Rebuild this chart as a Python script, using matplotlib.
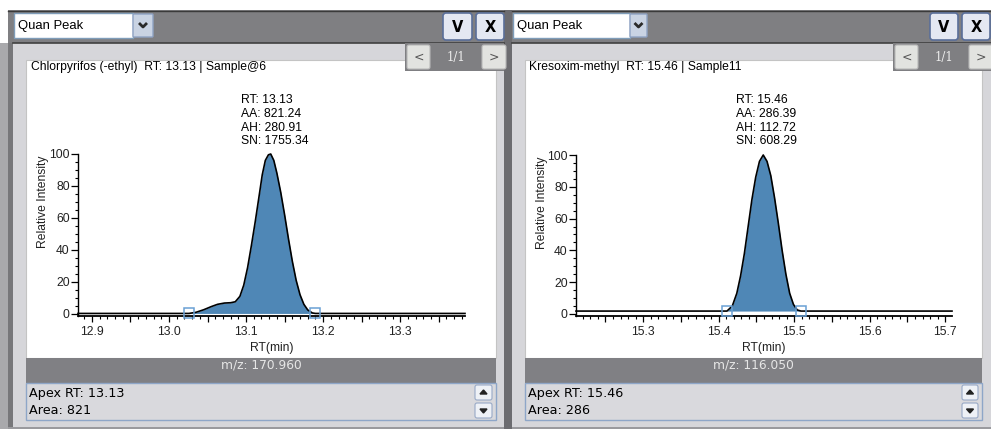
import matplotlib
matplotlib.use("Agg")
import matplotlib.pyplot as plt
from matplotlib.patches import Rectangle, FancyBboxPatch
from matplotlib.ticker import MultipleLocator, FuncFormatter

# ---------------- data ----------------
rt_chlorpyrifos = [12.882, 13.026, 13.035, 13.045, 13.055, 13.063, 13.072, 13.080,
                   13.086, 13.092, 13.097, 13.102, 13.107, 13.112, 13.117, 13.121,
                   13.125, 13.129, 13.132, 13.136, 13.140, 13.145, 13.150, 13.155,
                   13.160, 13.165, 13.170, 13.175, 13.180, 13.186, 13.190, 13.384]
int_chlorpyrifos = [0.3, 0.3, 1.0, 2.6, 4.6, 6.0, 6.8, 7.0,
                    7.6, 11, 18, 29, 43, 58, 74, 87,
                    96, 99.5, 100, 96, 88, 76, 62, 47,
                    33, 21, 12, 6, 2.5, 0.6, 0.3, 0.3]
bounds_chlorpyrifos = [13.026, 13.190]

rt_kresoxim = [15.211, 15.411, 15.418, 15.424, 15.429, 15.434, 15.439, 15.444,
               15.449, 15.454, 15.459, 15.464, 15.469, 15.474, 15.479, 15.484,
               15.489, 15.494, 15.499, 15.504, 15.509, 15.709]
int_kresoxim = [1.8, 1.8, 5, 13, 24, 38, 55, 72,
                86, 96, 100, 96, 87, 73, 57, 40,
                25, 13, 6, 2.5, 1.8, 1.8]
bounds_kresoxim = [15.411, 15.509]

titles = ["Chlorpyrifos (-ethyl)  RT: 13.13 | Sample@6",
          "Kresoxim-methyl  RT: 15.46 | Sample11"]
annotations = [["RT: 13.13", "AA: 821.24", "AH: 280.91", "SN: 1755.34"],
               ["RT: 15.46", "AA: 286.39", "AH: 112.72", "SN: 608.29"]]
mz_labels = ["m/z: 170.960", "m/z: 116.050"]
apex_labels = ["Apex RT: 13.13", "Apex RT: 15.46"]
area_labels = ["Area: 821", "Area: 286"]
y_label = "Relative Intensity"
x_label = "RT(min)"

# ---------------- layout (pixels) ----------------
W, H = 991, 429
fig = plt.figure(figsize=(W / 100, H / 100), dpi=100)
fig.patch.set_facecolor("white")
bg = fig.add_axes([0, 0, 1, 1])
bg.set_xlim(0, W)
bg.set_ylim(H, 0)
bg.axis("off")

TOOL = "#7f7f82"
BODY = "#d6d6da"
DARK = "#6c6c70"
UIFONT = "DejaVu Sans"
CHFONT = "Liberation Sans"
CHSIZE = 8.7


def rect(x0, y0, x1, y1, fc, ec="none", lw=0, z=1):
    bg.add_patch(Rectangle((x0, y0), x1 - x0, y1 - y0, facecolor=fc,
                           edgecolor=ec, linewidth=lw, zorder=z))


def rbox(x0, y0, x1, y1, fc, ec, lw=1, z=3, r=2):
    bg.add_patch(FancyBboxPatch((x0, y0), x1 - x0, y1 - y0,
                                boxstyle=f"round,pad=0,rounding_size={r}",
                                facecolor=fc, edgecolor=ec, linewidth=lw, zorder=z))


def ax_rect(x0, y0, x1, y1):
    return [x0 / W, (H - y1) / H, (x1 - x0) / W, (y1 - y0) / H]


# outer frame pieces
rect(0, 43, 8, H, "#a9a9ac")
rect(8, 10, 13, H, "#77777a")
rect(504, 10, 512, H, DARK)

panels = [
    dict(x0=13, x1=504, dd=(14, 133, 153), vb=(443, 472), xb=(476, 504),
         nav=(405, 504), white=(26, 496), ann_x=241, title_x=31,
         scroll=(475, 492)),
    dict(x0=512, x1=991, dd=(513, 630, 647), vb=(930, 958), xb=(962, 990),
         nav=(893, 991), white=(525, 982), ann_x=736, title_x=529,
         scroll=(962, 978)),
]

for i, p in enumerate(panels):
    x0, x1 = p["x0"], p["x1"]
    # toolbar
    rect(x0 - (5 if i == 0 else 0), 10, x1, 43, TOOL, z=1)
    bg.plot([x0 - (5 if i == 0 else 0), x1], [10.5, 10.5], color="#3a3a3a", lw=1, zorder=2)
    bg.plot([x0, x1], [42.5, 42.5], color="#404040", lw=1.2, zorder=2)
    # body
    rect(x0, 43, x1, 427, BODY, z=1)
    rect(x0 - (5 if i == 0 else 0), 427, x1, H, "#9a9a9e", z=1)
    # dropdown
    d0, d1, d2 = p["dd"]
    rect(d0, 13, d1, 38, "white", ec="#7f9db9", lw=1, z=3)
    rbox(d1, 14, d2, 37, "#c9d3e3", "#8fa3c4", lw=1, z=3, r=1)
    cx = (d1 + d2) / 2
    bg.plot([cx - 4, cx, cx + 4], [23, 27, 23], color="#2a2a2a", lw=2, zorder=4,
            solid_capstyle="butt")
    bg.text(d0 + 4, 26, "Quan Peak", fontsize=9.4, family=CHFONT, va="center",
            ha="left", color="black", zorder=4)
    # V / X buttons
    for (b0, b1), lab in [(p["vb"], "V"), (p["xb"], "X")]:
        rbox(b0, 13, b1, 40, "#e4e8f2", "#5a6f9a", lw=1.2, z=3, r=3)
        bg.text((b0 + b1) / 2, 27, lab, fontsize=10.5, fontweight="bold",
                family="DejaVu Sans", ha="center", va="center", color="black", zorder=4)
    # white chart area
    w0, w1 = p["white"]
    rect(w0, 60, w1, 358, "white", ec="#c4c4c4", lw=0.8, z=1.5)
    # nav box
    n0, n1 = p["nav"]
    rect(n0, 43, n1, 71, TOOL, z=3)
    rbox(n0 + 2, 45, n0 + 25, 69, "#e2e3e0", "#b8b8b8", lw=0.8, z=4, r=2)
    rbox(n1 - 22, 45, n1 + 2, 69, "#e2e3e0", "#b8b8b8", lw=0.8, z=4, r=2)
    bg.text(n0 + 13.5, 57, "<", fontsize=9, color="#555", ha="center", va="center",
            family="DejaVu Sans", zorder=5)
    bg.text(n1 - 10, 57, ">", fontsize=9, color="#555", ha="center", va="center",
            family="DejaVu Sans", zorder=5)
    bg.text((n0 + 25 + n1 - 22) / 2, 58, "1/1", fontsize=8.5, color="#eeeeee",
            ha="center", va="center", family="DejaVu Serif", zorder=5)
    # title
    bg.text(p["title_x"], 67, titles[i], fontsize=CHSIZE, family=CHFONT, ha="left",
            va="center", color="black", zorder=4)
    # annotation
    for k, line in enumerate(annotations[i]):
        bg.text(p["ann_x"], 100 + 13.8 * k, line, fontsize=CHSIZE, family=CHFONT,
                ha="left", va="center", color="black", zorder=4)
    # m/z band
    rect(w0, 358, w1, 383, "#808084", z=2)
    bg.text((w0 + w1) / 2, 365.5, mz_labels[i], fontsize=8.8, family=UIFONT,
            ha="center", va="center", color="#e6e6e6", zorder=3)
    # info box
    rect(w0, 383, w1, 420, "#d9d9dd", ec="#8ea6c8", lw=1, z=2)
    bg.text(w0 + 3, 394, apex_labels[i], fontsize=9.2, family=UIFONT, ha="left",
            va="center", color="black", zorder=3)
    bg.text(w0 + 3, 410, area_labels[i], fontsize=9.2, family=UIFONT, ha="left",
            va="center", color="black", zorder=3)
    s0, s1 = p["scroll"]
    rbox(s0, 385, s1, 400, "#eef1f6", "#98a9c6", lw=0.8, z=3, r=2)
    rbox(s0, 403, s1, 418, "#eef1f6", "#98a9c6", lw=0.8, z=3, r=2)
    sc = (s0 + s1) / 2
    bg.add_patch(plt.Polygon([[sc - 3.5, 394], [sc + 3.5, 394], [sc, 390]],
                             color="#222", zorder=4))
    bg.add_patch(plt.Polygon([[sc - 3.5, 409], [sc + 3.5, 409], [sc, 413]],
                             color="#222", zorder=4))

# ---------------- charts ----------------
FILL = "#4f87b6"
charts = [
    dict(px=(78, 154, 465, 316), rt=rt_chlorpyrifos, inten=int_chlorpyrifos,
         bounds=bounds_chlorpyrifos, xlim=(12.882, 13.384), ylab_x=43),
    dict(px=(576, 155, 952, 316), rt=rt_kresoxim, inten=int_kresoxim,
         bounds=bounds_kresoxim, xlim=(15.211, 15.709), ylab_x=542),
]

for c in charts:
    ax = fig.add_axes(ax_rect(*c["px"]))
    ax.set_facecolor("none")
    ax.set_zorder(5)
    ax.set_xlim(*c["xlim"])
    ax.set_ylim(-1.3, 100)
    for s in ["top", "right"]:
        ax.spines[s].set_visible(False)
    ax.spines["left"].set_linewidth(1.0)
    ax.spines["bottom"].set_linewidth(1.3)
    rt, inten = c["rt"], c["inten"]
    b0, b1 = c["bounds"]
    sub = [(r, v) for r, v in zip(rt, inten) if b0 <= r <= b1]
    srt = [r for r, _ in sub]
    sint = [v for _, v in sub]
    ax.fill_between(srt, sint[0], sint, color=FILL, lw=0, zorder=2)
    ax.plot(rt, inten, color="black", lw=1.2, zorder=3, clip_on=False)
    ax.plot([b0, b1], [sint[0], sint[-1]], ls="none", marker="s", ms=7,
            mfc="none", mec="#6aa0d4", mew=1.1, zorder=4, clip_on=False)
    ax.yaxis.set_major_locator(MultipleLocator(20))
    ax.yaxis.set_minor_locator(MultipleLocator(5))
    ax.xaxis.set_major_locator(MultipleLocator(0.05))
    ax.xaxis.set_minor_locator(MultipleLocator(0.01))

    def fmt(v, pos):
        r = round(v * 10)
        return f"{r / 10:.1f}" if abs(v * 10 - r) < 1e-6 else ""

    ax.xaxis.set_major_formatter(FuncFormatter(fmt))
    ax.tick_params(axis="y", which="major", direction="out", length=5, width=0.9,
                   pad=1, labelsize=CHSIZE, labelcolor="#222")
    ax.tick_params(axis="y", which="minor", direction="out", length=2, width=0.8)
    ax.tick_params(axis="x", which="major", direction="out", length=4, width=0.9,
                   pad=3.5, labelsize=CHSIZE, labelcolor="#222")
    ax.tick_params(axis="x", which="minor", direction="out", length=2.2, width=0.8)
    for lab in ax.get_xticklabels() + ax.get_yticklabels():
        lab.set_family(CHFONT)
    ax.set_xlabel(x_label, fontsize=CHSIZE, family=CHFONT, color="#222")
    ax.xaxis.set_label_coords(0.5, -(348 - 316) / 162)
    ax.xaxis.label.set_va("center")
    ax.set_ylabel(y_label, fontsize=CHSIZE, family=CHFONT, color="#222")
    x0, y0, x1, y1 = c["px"]
    ax.yaxis.set_label_coords((c["ylab_x"] - x0) / (x1 - x0), (316 - 202) / 162)
    ax.yaxis.label.set_va("center")

fig.savefig("out.png", dpi=100, facecolor="white")
